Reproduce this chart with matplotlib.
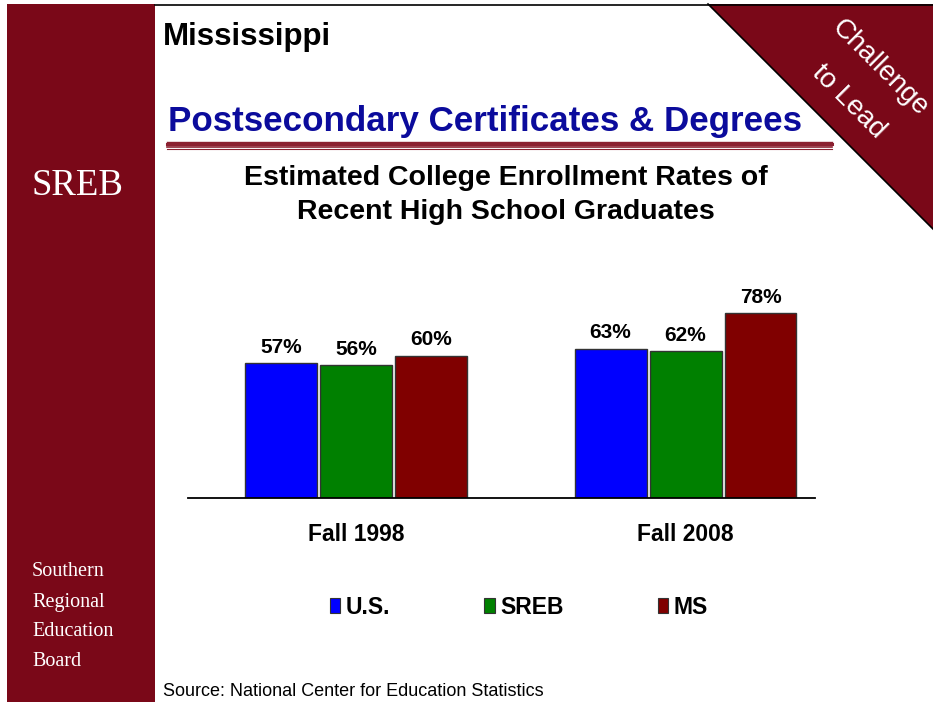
import matplotlib
matplotlib.use("Agg")
import matplotlib.pyplot as plt
from matplotlib.patches import Rectangle, Polygon, Patch
from matplotlib.lines import Line2D
import numpy as np

# Data
categories = ["Fall 1998", "Fall 2008"]
series_names = ["U.S.", "SREB", "MS"]
us_rates = [57, 63]
sreb_rates = [56, 62]
ms_rates = [60, 78]
series_colors = ["#0000FF", "#008000", "#800000"]

W, H = 933, 702
DPI = 100
MAROON = "#7A0818"
TITLE_BLUE = "#0B0B9C"
SANS = "Liberation Sans"
SERIF = "Liberation Serif"

fig = plt.figure(figsize=(W / DPI, H / DPI), dpi=DPI)
fig.patch.set_facecolor("white")


def fx(px):
    return px / W


def fy(py):
    return 1 - py / H


# Left sidebar
fig.add_artist(Rectangle((fx(7), 0), fx(155) - fx(7), fy(4), transform=fig.transFigure,
                         facecolor=MAROON, edgecolor="none", zorder=0))
# Top rule
fig.add_artist(Line2D([fx(155), 1], [fy(4.5), fy(4.5)], transform=fig.transFigure,
                      color="black", lw=1.2, zorder=3))
# Corner triangle
fig.add_artist(Polygon([(fx(708), fy(4)), (1, fy(4)), (1, fy(229))], closed=True,
                       transform=fig.transFigure, facecolor=MAROON, edgecolor="none", zorder=1))
fig.add_artist(Line2D([fx(708), fx(933)], [fy(4), fy(229)], transform=fig.transFigure,
                      color="black", lw=1.2, zorder=2))
fig.text(fx(880), fy(68), "Challenge", rotation=-45, rotation_mode="anchor",
         ha="center", va="center", color="white", fontsize=20, family=SANS, zorder=4)
fig.text(fx(849), fy(102), "to Lead", rotation=-45, rotation_mode="anchor",
         ha="center", va="center", color="white", fontsize=20, family=SANS, zorder=4)

# Sidebar texts
fig.text(fx(32), fy(186), "SREB", color="white", fontsize=26.5, family=SERIF,
         ha="left", va="center")
for i, word in enumerate(["Southern", "Regional", "Education", "Board"]):
    fig.text(fx(32), fy(572 + 30 * i), word, color="white", fontsize=14.5,
             family=SERIF, ha="left", va="center")

# Headings
fig.text(fx(163), fy(37), "Mississippi", fontsize=22.5, fontweight="bold",
         family=SANS, ha="left", va="center", color="black")
fig.text(fx(168), fy(122), "Postsecondary Certificates & Degrees", fontsize=25.2,
         fontweight="bold", family=SANS, ha="left", va="center", color=TITLE_BLUE)
for y, lw in [(141.5, 1.0), (143.5, 2.2), (146.5, 1.2), (148.5, 0.8)]:
    fig.add_artist(Line2D([fx(167), fx(832)], [fy(y), fy(y)], transform=fig.transFigure,
                          color="#8B2030", lw=lw))
fig.text(fx(506), fy(178), "Estimated College Enrollment Rates of", fontsize=20.5,
         fontweight="bold", family=SANS, ha="center", va="center")
fig.text(fx(506), fy(212), "Recent High School Graduates", fontsize=20.5,
         fontweight="bold", family=SANS, ha="center", va="center")

# Chart
ax_left, ax_right, ax_top, ax_bottom = 188, 815, 260, 498
ax = fig.add_axes([fx(ax_left), fy(ax_bottom), fx(ax_right - ax_left),
                   (ax_bottom - ax_top) / H])
ax.set_facecolor("none")
x = np.arange(len(categories))
bar_w = 0.2185
step = 0.2276
all_series = [us_rates, sreb_rates, ms_rates]
for k, (vals, color) in enumerate(zip(all_series, series_colors)):
    pos = x + (k - 1) * step
    bars = ax.bar(pos, vals, width=bar_w, color=color, edgecolor="#333333",
                  linewidth=1.0, zorder=2)
    for b, v in zip(bars, vals):
        ax.text(b.get_x() + b.get_width() / 2, v + 2.7, f"{v}%", ha="center",
                va="bottom", fontsize=15, fontweight="bold", family=SANS)
ax.set_xlim(-0.51, 1.393)
ax.set_ylim(0, (ax_bottom - ax_top) / 2.37)
for s in ["top", "right", "left"]:
    ax.spines[s].set_visible(False)
ax.spines["bottom"].set_linewidth(1.3)
ax.set_yticks([])
ax.set_xticks(x)
ax.set_xticklabels(categories, fontsize=16.5, fontweight="bold", family=SANS)
ax.tick_params(axis="x", length=0, pad=18)

# Legend
legend_handles = [Patch(facecolor=c, edgecolor="#333333", linewidth=0.8) for c in series_colors]
leg = fig.legend(legend_handles, series_names, loc="center", bbox_to_anchor=(fx(519), fy(607)),
                 ncol=3, frameon=False, handlelength=0.45, handleheight=0.6, handletextpad=0.25,
                 columnspacing=4.1, prop={"family": SANS, "weight": "bold", "size": 16.5})

# Source note
fig.text(fx(163), fy(691), "Source: National Center for Education Statistics",
         fontsize=13, family=SANS, ha="left", va="center")

fig.savefig("out.png", dpi=DPI)
